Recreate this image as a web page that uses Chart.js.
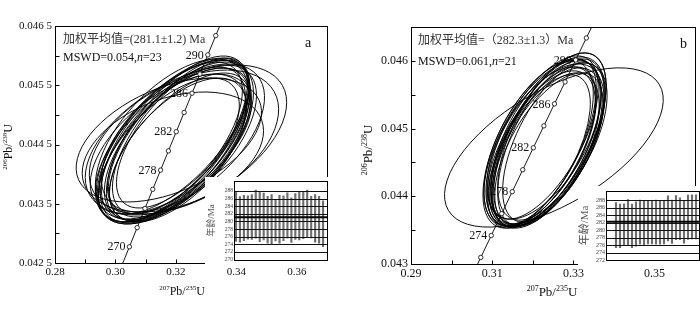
<!DOCTYPE html>
<html><head><meta charset="utf-8">
<script src="https://cdn.jsdelivr.net/npm/chart.js@4.4.1/dist/chart.umd.min.js"></script>
<style>
html,body{margin:0;padding:0;background:#fff;}
#wrap{position:relative;width:700px;height:309px;overflow:hidden;background:#fff}
canvas{position:absolute;display:block}
</style>
</head><body><div id="wrap">
<canvas id="ca" width="350" height="309" style="left:0;top:0"></canvas>
<canvas id="cb" width="350" height="309" style="left:350px;top:0"></canvas>
<canvas id="ia" width="123" height="87" style="left:205px;top:177px"></canvas>
<canvas id="ib" width="122" height="79" style="left:578px;top:186px"></canvas>
</div>
<script>
// ---- Concordia points (age in Ma, 207Pb/235U, 206Pb/238U) ----
const concAges = [266,268,270,272,274,276,278,280,282,284,286,288,290,292,294,296];
const concX = [0.299488,0.302050,0.304617,0.307189,0.309767,0.312349,0.314936,0.317529,0.320126,0.322730,0.325337,0.327950,0.330569,0.333192,0.335821,0.338455];
const concY = [0.042126,0.042450,0.042773,0.043097,0.043421,0.043744,0.044068,0.044392,0.044716,0.045040,0.045365,0.045689,0.046013,0.046338,0.046663,0.046988];
const concLabelsA = [270,278,282,286,290];
const concLabelsB = [274,278,282,286,290];

// ---- Panel a error ellipses ----
const ellA_x = [0.3200,0.3190,0.3210,0.31833,0.32167,0.31967,0.31767,0.32233,0.32033,0.31867,0.32133,0.31933,0.32067,0.3180,0.3220,0.31967,0.32033,0.32333,0.32267,0.32233,0.31767,0.3190,0.31833];
const ellA_y = [0.044576,0.044492,0.04461,0.044441,0.044643,0.044542,0.044407,0.044677,0.044508,0.044593,0.044458,0.044643,0.044407,0.044542,0.044559,0.044475,0.04461,0.044576,0.044542,0.04461,0.044576,0.044373,0.044508];
const ellA_sx = [0.02467,0.0240,0.02333,0.0250,0.02267,0.0260,0.02333,0.0220,0.0240,0.02533,0.02333,0.02467,0.02267,0.0240,0.02467,0.02533,0.02333,0.03333,0.03133,0.0270,0.03067,0.0300,0.02667];
const ellA_sy = [0.00135,0.001316,0.001283,0.001249,0.001316,0.001384,0.001215,0.001249,0.001283,0.00135,0.001249,0.001316,0.001215,0.00135,0.001283,0.001316,0.001384,0.001266,0.001215,0.001249,0.001046,0.001013,0.001181];
const ellA_rho = [0.62,0.62,0.65,0.58,0.66,0.6,0.62,0.66,0.62,0.58,0.63,0.65,0.6,0.64,0.6,0.63,0.66,0.5,0.45,0.55,0.45,0.35,0.57];

// ---- Panel b error ellipses ----
const ellB_x = [0.32325,0.32252,0.32374,0.32204,0.32422,0.32301,0.32155,0.32447,0.32277,0.3235,0.32228,0.32398,0.32277,0.32471,0.3218,0.32374,0.32325,0.32252,0.32519,0.32131,0.32519];
const ellB_y = [0.044779,0.044735,0.044824,0.044706,0.044853,0.04475,0.044676,0.044794,0.044838,0.044721,0.044779,0.044691,0.044809,0.044882,0.044735,0.044765,0.044676,0.044868,0.044794,0.044765,0.044721];
const ellB_sx = [0.013592,0.013107,0.014078,0.01335,0.013835,0.014563,0.012621,0.013107,0.014078,0.013592,0.01432,0.01335,0.012864,0.01335,0.013835,0.014563,0.013107,0.013592,0.012621,0.013592,0.026942];
const ellB_sy = [0.001221,0.001176,0.001235,0.001147,0.001265,0.001206,0.001118,0.001235,0.001176,0.001176,0.00125,0.001132,0.001221,0.001235,0.001176,0.001206,0.001147,0.001206,0.001176,0.001235,0.001176];
const ellB_rho = [0.6,0.62,0.58,0.6,0.62,0.56,0.62,0.6,0.58,0.6,0.57,0.6,0.64,0.6,0.58,0.6,0.58,0.62,0.6,0.6,0.6];

// ---- Inset weighted-mean plots (age, 2σ error) ----
const insetA_age = [281.2,280.55,280.9,281.05,281.15,281.9,281.15,281.3,280.45,280.6,280.35,280.55,280.85,281.55,280.35,281.3,281.4,281.65,282.0,281.15,280.8,280.45,279.4];
const insetA_err = [6.4,5.95,5.9,5.65,5.85,6.3,6.45,6.1,6.15,6.4,5.45,6.25,5.85,5.95,5.85,6.0,6.2,6.15,6.2,5.45,6.2,6.15,6.0];
const meanA = 281.1;
const insetB_age = [281.4,281.2,281.5,282.1,281.2,281.7,282.2,282.1,282.2,282.2,282.2,282.1,282.2,283.2,282.3,283.4,283.1,282.3,283.5,283.6,283.6];
const insetB_err = [6.0,5.8,5.6,6.1,5.8,5.9,5.9,5.9,5.8,5.8,5.9,5.8,5.8,6.0,5.8,5.9,5.6,5.7,5.9,5.9,5.9];
const meanB = 282.3;

const SERIF = '"Liberation Serif","Times New Roman","Noto Sans CJK SC",serif';
function fontStr(size, style){ return (style ? style + ' ' : '') + size + 'px ' + SERIF; }

function drawRich(ctx, parts, x, y, size, align, rot, color) {
  ctx.save();
  ctx.translate(x, y);
  if (rot) ctx.rotate(rot);
  const supSize = Math.round(size * 0.6);
  const fnt = p => p[1] === 's' ? fontStr(supSize) : (p[1] === 'i' ? fontStr(size, 'italic') : fontStr(size));
  let w = 0;
  const ms = parts.map(p => { ctx.font = fnt(p); const m = ctx.measureText(p[0]).width; w += m; return m; });
  let cx = align === 'center' ? -w / 2 : (align === 'right' ? -w : 0);
  ctx.textAlign = 'left'; ctx.textBaseline = 'alphabetic'; ctx.fillStyle = color || '#111';
  parts.forEach((p, i) => {
    ctx.font = fnt(p);
    ctx.fillText(p[0], cx, p[1] === 's' ? -size * 0.42 : 0);
    cx += ms[i];
  });
  ctx.restore();
}

function makePanelPlugin(cfg) {
  return {
    id: 'panel_' + cfg.id,
    beforeDatasetsDraw(chart) {
      const {ctx, chartArea: ca, scales: {x: xs, y: ys}} = chart;
      ctx.save();
      ctx.beginPath(); ctx.rect(ca.left, ca.top, ca.right - ca.left, ca.bottom - ca.top); ctx.clip();
      ctx.font = fontStr(cfg.labelSize); ctx.fillStyle = '#111';
      ctx.textAlign = 'right'; ctx.textBaseline = 'middle';
      cfg.concLabels.forEach(age => {
        const i = concAges.indexOf(age);
        const px = xs.getPixelForValue(concX[i]), py = ys.getPixelForValue(concY[i]);
        ctx.fillText(String(age), px - 4, py + 0.5);
      });
      ctx.strokeStyle = '#000'; ctx.lineWidth = 0.95;
      for (let i = 0; i < cfg.ex.length; i++) {
        const px = xs.getPixelForValue(cfg.ex[i]), py = ys.getPixelForValue(cfg.ey[i]);
        const X = xs.getPixelForValue(cfg.ex[i] + cfg.esx[i]) - px;
        const Y = ys.getPixelForValue(cfg.ey[i] + cfg.esy[i]) - py;
        const a = X * X, c = Y * Y, b = cfg.erho[i] * X * Y;
        const th = 0.5 * Math.atan2(2 * b, a - c);
        const m = (a + c) / 2, d = Math.sqrt(((a - c) / 2) ** 2 + b * b);
        ctx.beginPath();
        ctx.ellipse(px, py, Math.sqrt(m + d), Math.sqrt(Math.max(m - d, 0.01)), th, 0, 2 * Math.PI);
        ctx.stroke();
      }
      ctx.restore();
    },
    afterDraw(chart) {
      const {ctx, chartArea: ca, scales: {x: xs, y: ys}} = chart;
      ctx.save();
      ctx.strokeStyle = '#000'; ctx.lineWidth = 1;
      const L = Math.round(ca.left) + 0.5, T = Math.round(ca.top) + 0.5, R = Math.round(ca.right) + 0.5, B = Math.round(ca.bottom) + 0.5;
      ctx.strokeRect(L, T, R - L, B - T);
      ctx.beginPath();
      xs.ticks.forEach(t => { const p = Math.round(xs.getPixelForValue(t.value)) + 0.5; ctx.moveTo(p, B); ctx.lineTo(p, B - 4); });
      ys.ticks.forEach(t => { const p = Math.round(ys.getPixelForValue(t.value)) + 0.5; ctx.moveTo(L, p); ctx.lineTo(L + 4, p); });
      ctx.stroke();
      ctx.restore();
      cfg.texts.forEach(t => drawRich(ctx, t.parts, t.x, t.y, t.size, 'left', 0, t.color));
      drawRich(ctx, [['207','s'],['Pb/',''],['235','s'],['U','']], cfg.xt[0], cfg.xt[1], cfg.titleSize, 'center', 0);
      drawRich(ctx, [['206','s'],['Pb/',''],['238','s'],['U','']], cfg.yt[0], cfg.yt[1], cfg.titleSize, 'center', -Math.PI / 2);
    }
  };
}

function mainChart(cfg) {
  return new Chart(document.getElementById(cfg.id), {
    type: 'scatter',
    data: { datasets: [{
      data: concX.map((x, i) => ({x: x, y: concY[i]})),
      showLine: true, borderColor: '#000', borderWidth: 0.9,
      pointRadius: 2.2, pointBackgroundColor: '#fff', pointBorderColor: '#000', pointBorderWidth: 0.8
    }]},
    options: {
      responsive: false, animation: false, devicePixelRatio: 1, events: [],
      layout: { padding: cfg.padding },
      plugins: { legend: {display: false}, tooltip: {enabled: false} },
      scales: {
        x: { type: 'linear', min: cfg.xMin, max: cfg.xMax,
             ticks: { stepSize: 0.01, autoSkip: false, maxRotation: 0, padding: 3, color: '#111',
                      font: {family: SERIF, size: cfg.tickSize}, callback: cfg.xCb },
             grid: { display: false, drawTicks: false }, border: { display: false },
             afterFit: s => { s.height = cfg.xh; } },
        y: { type: 'linear', min: cfg.yMin, max: cfg.yMax,
             ticks: { stepSize: 0.0005, autoSkip: false, padding: 3, color: '#111',
                      font: {family: SERIF, size: cfg.tickSize}, callback: cfg.yCb },
             grid: { display: false, drawTicks: false }, border: { display: false },
             afterFit: s => { s.width = cfg.yw; } }
      }
    },
    plugins: [makePanelPlugin(cfg)]
  });
}

mainChart({
  id: 'ca', padding: {left: 0, top: 26, right: 23, bottom: 0}, xh: 46, yw: 55,
  xMin: 0.28, xMax: 0.37, yMin: 0.0425, yMax: 0.0465, tickSize: 11, labelSize: 12, titleSize: 12,
  xCb: v => { const k = Math.round(v * 100); return k % 2 === 0 ? (k / 100).toFixed(2) : ''; },
  yCb: v => { const k = Math.round(v * 2000); if (k % 2 !== 1) return ''; const s = (k / 2000).toFixed(4); return s.slice(0, 5) + ' ' + s.slice(5); },
  ex: ellA_x, ey: ellA_y, esx: ellA_sx, esy: ellA_sy, erho: ellA_rho,
  concLabels: concLabelsA,
  texts: [
    {parts: [['加权平均值=(281.1±1.2) Ma', '']], x: 63, y: 43, size: 12, color: '#333'},
    {parts: [['MSWD=0.054,', ''], ['n', 'i'], ['=23', '']], x: 63, y: 61, size: 12},
    {parts: [['a', '']], x: 305, y: 47, size: 14}
  ],
  xt: [182, 295], yt: [12, 147]
});

mainChart({
  id: 'cb', padding: {left: 0, top: 27, right: 1, bottom: 0}, xh: 45, yw: 61,
  xMin: 0.29, xMax: 0.36, yMin: 0.043, yMax: 0.0465, tickSize: 12, labelSize: 12, titleSize: 13,
  xCb: v => { const k = Math.round(v * 100); return k % 2 === 1 ? (k / 100).toFixed(2) : ''; },
  yCb: v => { const k = Math.round(v * 2000); return k % 2 === 0 ? (k / 2000).toFixed(3) : ''; },
  ex: ellB_x, ey: ellB_y, esx: ellB_sx, esy: ellB_sy, erho: ellB_rho,
  concLabels: concLabelsB,
  texts: [
    {parts: [['加权平均值=（282.3±1.3）Ma', '']], x: 68, y: 44, size: 12, color: '#333'},
    {parts: [['MSWD=0.061,', ''], ['n', 'i'], ['=21', '']], x: 68, y: 65, size: 12},
    {parts: [['b', '']], x: 330, y: 48, size: 14}
  ],
  xt: [202, 296], yt: [22, 150]
});

function insetChart(id, ages, errs, mean, yMin, yMax, xMin, xMax, yw, tickSize, titleSize) {
  return new Chart(document.getElementById(id), {
    type: 'bar',
    data: { datasets: [{
      data: ages.map((a, i) => ({x: i + 1, y: [a - errs[i], a + errs[i]]})),
      backgroundColor: '#6e6e6e', borderWidth: 0, barThickness: 1.5
    }]},
    options: {
      responsive: false, animation: false, devicePixelRatio: 1, events: [],
      layout: { padding: {left: 0, top: 3, right: 1, bottom: 1} },
      plugins: { legend: {display: false}, tooltip: {enabled: false} },
      scales: {
        x: { type: 'linear', min: xMin, max: xMax, display: false, offset: false },
        y: { type: 'linear', min: yMin, max: yMax,
             ticks: { stepSize: 2, autoSkip: false, padding: 1, color: '#444',
                      font: {family: SERIF, size: tickSize},
                      callback: v => { const r = Math.round(v); return (Math.abs(v - r) < 1e-6 && r % 2 === 0) ? String(r) : ''; } },
             grid: { display: false, drawTicks: false }, border: { display: false },
             title: { display: true, text: '年龄/Ma', color: '#555', font: {family: SERIF, size: titleSize}, padding: {top: 1, bottom: 1} },
             afterFit: s => { s.width = yw; } }
      }
    },
    plugins: [{
      id: 'inset_' + id,
      beforeDraw(c) { const ctx = c.ctx; ctx.save(); ctx.fillStyle = '#fff'; ctx.fillRect(0, 0, c.width, c.height); ctx.restore(); },
      afterDatasetsDraw(c) {
        const {ctx, chartArea: ca, scales: {y: ys}} = c;
        ctx.save();
        ctx.strokeStyle = '#111'; ctx.lineWidth = 1;
        ctx.beginPath();
        ys.ticks.forEach(t => {
          const r = Math.round(t.value);
          if (Math.abs(t.value - r) > 1e-6 || r % 2 !== 0) return;
          const p = Math.round(ys.getPixelForValue(t.value)) + 0.5;
          ctx.moveTo(ca.left, p); ctx.lineTo(ca.right, p);
        });
        ctx.stroke();
        ctx.strokeStyle = '#000'; ctx.lineWidth = 2;
        ctx.beginPath();
        const pm = ys.getPixelForValue(mean);
        ctx.moveTo(ca.left, pm); ctx.lineTo(ca.right, pm);
        ctx.stroke();
        ctx.lineWidth = 1;
        const L = Math.round(ca.left) + 0.5, T = Math.round(ca.top) + 0.5, R = Math.round(ca.right) + 0.5, B = Math.round(ca.bottom) + 0.5;
        ctx.strokeRect(L, T, R - L, B - T);
        ctx.restore();
      }
    }]
  });
}

insetChart('ia', insetA_age, insetA_err, meanA, 270, 290.5, 0.5, 24, 29, 5.5, 9);
insetChart('ib', insetB_age, insetB_err, meanB, 272, 290.6, -1.5, 21.75, 28, 6, 11);
</script>
</body></html>
